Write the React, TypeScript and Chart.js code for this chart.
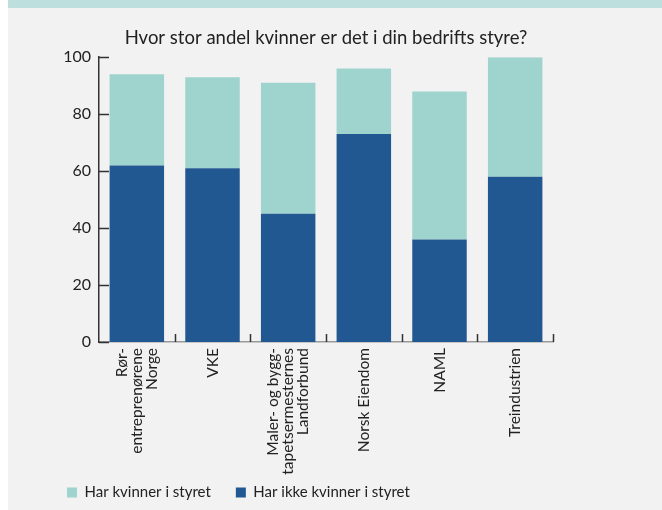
import React, { useEffect, useRef } from "react";
import { Chart, registerables } from "chart.js";

Chart.register(...registerables);

const TITLE = "Hvor stor andel kvinner er det i din bedrifts styre?";
const categories: (string | string[])[] = [
  ["Rør-", "entreprenørene", "Norge"],
  "VKE",
  ["Maler- og bygg-", "tapetsermesternes", "Landforbund"],
  "Norsk Eiendom",
  "NAML",
  "Treindustrien",
];
const withoutWomen = [62, 61, 45, 73, 36, 58];
const withWomen = [32, 32, 46, 23, 52, 42];
const seriesNames = ["Har ikke kvinner i styret", "Har kvinner i styret"];
const yTicks = [0, 20, 40, 60, 80, 100];

const FONT = "Lato, 'Open Sans', sans-serif";
const TEXT = "#222222";
const DARK = "#225892";
const TEAL = "#9fd3cd";
const X_LINE = 15;
const X_FONT = 15.5;

const innerTicks = {
  id: "innerTicks",
  afterDraw(chart: any) {
    const { ctx, chartArea, scales } = chart;
    const x = scales.x;
    const y = scales.y;
    ctx.save();
    ctx.strokeStyle = "#333333";
    ctx.lineWidth = 1.5;
    ctx.beginPath();
    y.ticks.forEach((t: any) => {
      const py = Math.round(y.getPixelForValue(t.value)) + 0.5;
      ctx.moveTo(chartArea.left, py);
      ctx.lineTo(chartArea.left + 10, py);
    });
    const n = x.ticks.length;
    const step = (x.right - x.left) / n;
    for (let i = 1; i <= n; i++) {
      const px = Math.round(x.left + i * step) + 0.5;
      ctx.moveTo(px, chartArea.bottom);
      ctx.lineTo(px, chartArea.bottom - 8);
    }
    ctx.stroke();
    ctx.restore();
  },
};

export default function App() {
  const ref = useRef<HTMLCanvasElement>(null);
  useEffect(() => {
    if (!ref.current) return;
    const chart = new Chart(ref.current, {
      type: "bar",
      data: {
        labels: categories,
        datasets: [
          { label: seriesNames[0], data: withoutWomen, backgroundColor: DARK, borderWidth: 0 },
          { label: seriesNames[1], data: withWomen, backgroundColor: TEAL, borderWidth: 0 },
        ],
      },
      plugins: [innerTicks],
      options: {
        responsive: false,
        animation: false,
        layout: { padding: { left: 49, right: 109, top: 0, bottom: 0 } },
        font: { family: FONT },
        plugins: {
          title: {
            display: true,
            text: TITLE,
            fullSize: false,
            color: TEXT,
            font: { family: FONT, size: 18.5, weight: "normal" },
            padding: { top: 19, bottom: 8 },
          },
          legend: {
            position: "bottom",
            align: "start",
            reverse: true,
            labels: {
              boxWidth: 10,
              boxHeight: 10,
              padding: 10,
              color: TEXT,
              font: { family: FONT, size: 15 },
              generateLabels: (ch: any) => {
                const items = Chart.defaults.plugins.legend.labels.generateLabels(ch);
                items.forEach((it: any) => {
                  if (it.datasetIndex === 1) it.text = it.text + "\u2002\u2002";
                });
                return items;
              },
            },
          },
          tooltip: { enabled: false },
        },
        scales: {
          x: {
            stacked: true,
            grid: { display: false, drawTicks: false },
            border: { display: true, color: "#999999", width: 1.5 },
            ticks: {
              minRotation: 90,
              maxRotation: 90,
              padding: 6,
              color: TEXT,
              font: { family: FONT, size: X_FONT, lineHeight: X_LINE / X_FONT },
              labelOffset: -X_LINE,
              callback: (_v: any, i: number) => {
                const lab = categories[i];
                return Array.isArray(lab) ? lab : ["", lab];
              },
            },
            afterFit: (s: any) => {
              s.height = 133;
            },
          },
          y: {
            stacked: true,
            min: 0,
            max: 100,
            afterBuildTicks: (s: any) => {
              s.ticks = yTicks.map((v) => ({ value: v }));
            },
            grid: { display: false, drawTicks: false },
            border: { display: true, color: "#333333", width: 1.5 },
            ticks: {
              padding: 8,
              color: TEXT,
              font: { family: FONT, size: 16 },
            },
            afterFit: (s: any) => {
              s.width = 42;
            },
          },
        },
      },
    });
    return () => chart.destroy();
  }, []);

  return (
    <div style={{ position: "fixed", left: 0, top: 0, width: 662, height: 510, background: "#ffffff", overflow: "hidden" }}>
      <div style={{ position: "absolute", left: 8, top: 0, width: 654, height: 510, background: "#f2f2f2" }}>
        <div style={{ position: "absolute", left: 0, top: 0, width: 654, height: 8, background: "#bde0de" }} />
        <canvas ref={ref} width={654} height={502} style={{ position: "absolute", left: 0, top: 8, width: 654, height: 502 }} />
      </div>
    </div>
  );
}
